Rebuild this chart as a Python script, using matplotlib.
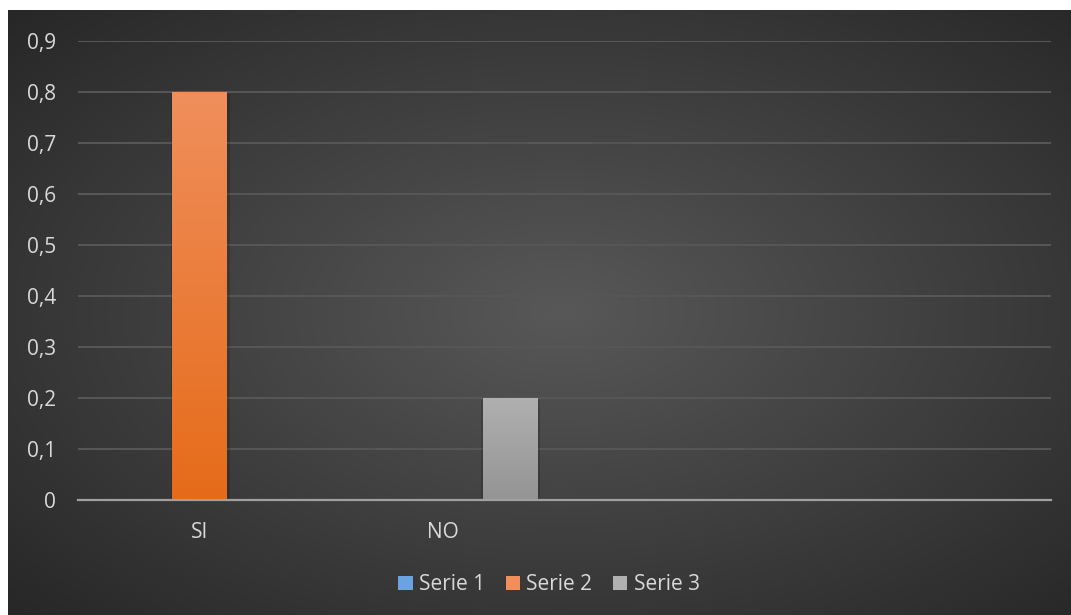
import numpy as np
import matplotlib.pyplot as plt
from matplotlib.patches import Rectangle
from matplotlib.ticker import FuncFormatter

plt.rcParams['font.family'] = ['Open Sans', 'DejaVu Sans']

# chart data
categories = ['SI', 'NO', '', '']
series_names = ['Serie 1', 'Serie 2', 'Serie 3']
serie_1 = [0, 0, 0, 0]
serie_2 = [0.8, 0, 0, 0]
serie_3 = [0, 0.2, 0, 0]
y_ticks = [0, 0.1, 0.2, 0.3, 0.4, 0.5, 0.6, 0.7, 0.8, 0.9]

# gradient colours (top, bottom) per series
series_colors = [
    ((0.42, 0.64, 0.88), (0.29, 0.53, 0.80)),
    ((0.94, 0.56, 0.36), (0.90, 0.42, 0.10)),
    ((0.69, 0.69, 0.69), (0.58, 0.58, 0.58)),
]
text_color = '#d9d9d9'

W, H = 1071, 615
fig = plt.figure(figsize=(W / 100, H / 100), dpi=100)
fig.patch.set_facecolor('white')

# dark radial background of the chart area
bg = fig.add_axes([8 / W, 0, 1 - 8 / W, 605 / H])
bg.set_axis_off()
yy, xx = np.mgrid[0:1:300j, 0:1:500j]
r = np.sqrt(((xx - 0.52) / 0.75) ** 2 + ((yy - 0.5) / 0.75) ** 2)
r = np.clip(r / 0.95, 0, 1)
shade = 0.345 - 0.19 * r
bg.imshow(np.dstack([shade] * 3), extent=[0, 1, 0, 1], aspect='auto', origin='lower')
bg.set_xlim(0, 1)
bg.set_ylim(0, 1)

ax = fig.add_axes([78 / W, 1 - 500 / H, (1051 - 78) / W, (500 - 41) / H])
ax.patch.set_alpha(0)
ax.set_zorder(2)

x = np.arange(len(categories))
width = 0.226
offsets = [-0.276, 0.0, 0.276]
all_values = [serie_1, serie_2, serie_3]

grad = np.linspace(0, 1, 256).reshape(-1, 1)
for vals, off, (top, bot) in zip(all_values, offsets, series_colors):
    bars = ax.bar(x + off, vals, width, color='none', edgecolor='none', zorder=3)
    for b in bars:
        h = b.get_height()
        if h <= 0:
            continue
        x0 = b.get_x()
        # soft shadow around the bar
        ax.add_patch(Rectangle((x0 - 0.006, 0), b.get_width() + 0.016, h - 0.003,
                               facecolor='black', alpha=0.15, zorder=2.5))
        cols = np.array(bot)[None, None, :] * (1 - grad[..., None]) + np.array(top)[None, None, :] * grad[..., None]
        im = ax.imshow(cols, extent=[x0, x0 + b.get_width(), 0, h],
                       origin='lower', aspect='auto', zorder=3)
        im.set_clip_path(b)

ax.set_xlim(-0.5, len(categories) - 0.5)
ax.set_ylim(0, 0.9)
ax.set_xticks(x)
ax.set_xticklabels(categories)
ax.set_yticks(y_ticks)
ax.yaxis.set_major_formatter(FuncFormatter(lambda v, p: ('%g' % round(v, 2)).replace('.', ',')))
ax.tick_params(axis='both', length=0, colors=text_color, labelsize=15)
ax.tick_params(axis='y', pad=16)
ax.tick_params(axis='x', pad=16)
ax.grid(axis='y', color='#575757', linewidth=1.4, zorder=1)
ax.set_axisbelow(True)
for s in ['top', 'right', 'left']:
    ax.spines[s].set_visible(False)
ax.spines['bottom'].set_color('#a0a0a0')
ax.spines['bottom'].set_linewidth(1.6)
ax.spines['bottom'].set_zorder(4)

handles = [Rectangle((0, 0), 1, 1, facecolor=c[0]) for c in series_colors]
fig.legend(handles, series_names, loc='center', bbox_to_anchor=(549 / W, 1 - 585 / H),
           ncol=3, frameon=False, fontsize=15, labelcolor=text_color,
           handlelength=0.68, handleheight=0.68, handletextpad=0.3, columnspacing=1.0)

fig.savefig('out.png', dpi=100)
